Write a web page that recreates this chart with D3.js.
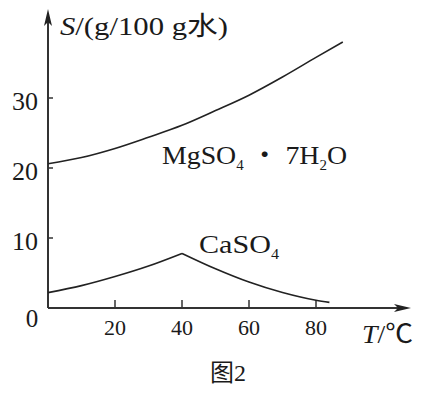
<!DOCTYPE html>
<html>
<head>
<meta charset="utf-8">
<script src="https://cdn.jsdelivr.net/npm/d3@7"></script>
<style>
  body { margin: 0; background: #fff; }
  svg text { font-family: "Liberation Serif", "Times New Roman", "Noto Sans CJK SC", serif; fill: #1a1a1a; }
</style>
</head>
<body>
<svg id="chart" width="425" height="394"></svg>
<script>
// données
const xTicks = [20, 40, 60, 80];
const yTicks = [10, 20, 30];
const mgTemps = [0, 10, 20, 30, 40, 50, 60, 70, 80, 88];
const mgValues = [20.6, 21.5, 22.8, 24.4, 26.1, 28.2, 30.4, 33.0, 35.8, 38.0];
const caTemps = [0, 10, 20, 30, 40, 50, 60, 70, 80, 84];
const caValues = [2.2, 3.2, 4.5, 6.0, 7.8, 5.6, 3.7, 2.2, 1.1, 0.8];
const caPeak = 4; // indice du sommet (angle vif)

const svg = d3.select('#chart');
const x = d3.scaleLinear().domain([0, 80]).range([48, 316]);
const y = d3.scaleLinear().domain([0, 30]).range([308, 98]);
const ink = '#222';

// axes
svg.append('line').attr('x1', x(0)).attr('y1', y(0)).attr('x2', x(0)).attr('y2', 20)
  .attr('stroke', '#333').attr('stroke-width', 2);
svg.append('line').attr('x1', x(0)).attr('y1', y(0)).attr('x2', 400).attr('y2', y(0))
  .attr('stroke', '#333').attr('stroke-width', 2);
svg.append('path').attr('d', `M${x(0)},9 L${x(0) - 4},26 L${x(0)},22 L${x(0) + 4},26 Z`).attr('fill', ink);
svg.append('path').attr('d', `M411,${y(0)} L394,${y(0) - 4} L398,${y(0)} L394,${y(0) + 4} Z`).attr('fill', ink);

// graduations
svg.selectAll('.ytick').data(yTicks).enter().append('line')
  .attr('x1', x(0)).attr('x2', x(0) + 5).attr('y1', d => y(d)).attr('y2', d => y(d))
  .attr('stroke', '#333').attr('stroke-width', 1.5);
svg.selectAll('.xtick').data(xTicks).enter().append('line')
  .attr('x1', d => x(d)).attr('x2', d => x(d)).attr('y1', y(0)).attr('y2', y(0) - 8)
  .attr('stroke', '#333').attr('stroke-width', 1.5);

svg.selectAll('.ylab').data(yTicks).enter().append('text')
  .attr('x', 38).attr('y', d => y(d) + 12).attr('text-anchor', 'end')
  .attr('font-size', 26).text(d => d);
svg.selectAll('.xlab').data(xTicks).enter().append('text')
  .attr('x', d => x(d)).attr('y', 335).attr('text-anchor', 'middle')
  .attr('font-size', 22).text(d => d);
svg.append('text').attr('x', 32).attr('y', 327).attr('text-anchor', 'middle')
  .attr('font-size', 25).text('0');

// titres des axes
const sLab = svg.append('text').attr('x', 60).attr('y', 35).attr('font-size', 26)
  .attr('textLength', 168).attr('lengthAdjust', 'spacingAndGlyphs');
sLab.append('tspan').attr('font-style', 'italic').text('S');
sLab.append('tspan').text('/(g/100 g水)');

const tLab = svg.append('text').attr('x', 362).attr('y', 343).attr('font-size', 26)
  .attr('textLength', 51).attr('lengthAdjust', 'spacingAndGlyphs');
tLab.append('tspan').attr('font-style', 'italic').text('T');
tLab.append('tspan').text('/℃');

svg.append('text').attr('x', 228).attr('y', 381).attr('text-anchor', 'middle')
  .attr('font-size', 24).text('图2');

// courbes
const line = d3.line().x(d => x(d[0])).y(d => y(d[1])).curve(d3.curveMonotoneX);
const mg = mgTemps.map((t, i) => [t, mgValues[i]]);
const ca = caTemps.map((t, i) => [t, caValues[i]]);

svg.append('path').attr('d', line(mg)).attr('fill', 'none').attr('stroke', ink).attr('stroke-width', 1.6);
svg.append('path').attr('d', line(ca.slice(0, caPeak + 1))).attr('fill', 'none').attr('stroke', ink).attr('stroke-width', 1.6);
svg.append('path').attr('d', line(ca.slice(caPeak))).attr('fill', 'none').attr('stroke', ink).attr('stroke-width', 1.6);

// étiquettes des séries
const mgLab = svg.append('text').attr('x', 162).attr('y', 164).attr('font-size', 26)
  .attr('textLength', 185).attr('lengthAdjust', 'spacingAndGlyphs');
mgLab.append('tspan').text('MgSO');
mgLab.append('tspan').attr('font-size', 14).attr('dy', 6).text('4');
mgLab.append('tspan').attr('dy', -6).text('\u00a0・\u00a07H');
mgLab.append('tspan').attr('font-size', 14).attr('dy', 6).text('2');
mgLab.append('tspan').attr('dy', -6).text('O');

const caLab = svg.append('text').attr('x', 199).attr('y', 253).attr('font-size', 26)
  .attr('textLength', 80).attr('lengthAdjust', 'spacingAndGlyphs');
caLab.append('tspan').text('CaSO');
caLab.append('tspan').attr('font-size', 14).attr('dy', 6).text('4');
</script>
</body>
</html>
